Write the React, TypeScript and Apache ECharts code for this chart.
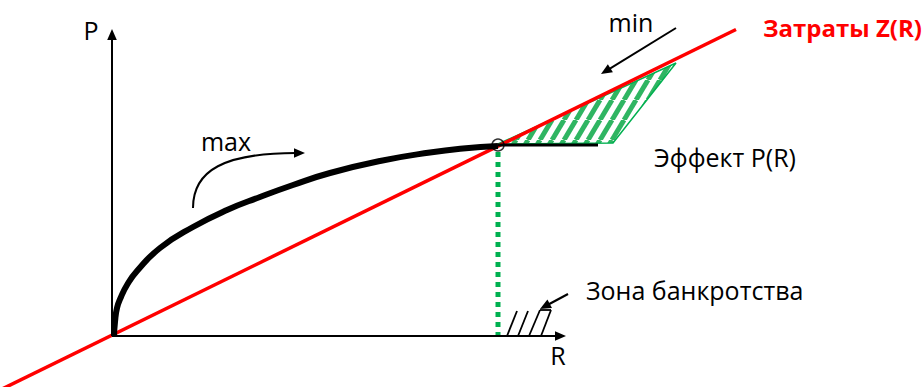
import React, { useEffect, useRef } from "react";
import * as echarts from "echarts";

// Effect curve P(R) (thick black) — data units
const effectR = [0.04, 0.06, 0.1, 0.18, 0.3, 0.5, 0.96, 1.62, 2.3, 2.96, 3.62, 4.36, 5.36, 6.36, 7.02, 7.72];
const effectP = [0, 0.28, 0.56, 0.78, 1.02, 1.3, 1.76, 2.18, 2.52, 2.78, 3.02, 3.26, 3.5, 3.67, 3.75, 3.8];
// Plateau of the effect after the break-even point
const plateauR = [7.72, 9.72];
const plateauP = [3.82, 3.82];
// Costs line Z(R)
const costR = [-2.24, 12.48];
const costZ = [-1.08, 6.13];
// Break-even point
const breakEven = [7.72, 3.82];
// Hatched "min" zone between Z(R) and P(R)
const hatchZone = [[7.72, 3.84], [11.28, 5.46], [10.02, 3.86]];
// Bankruptcy zone strokes
const zoneStrokes = [
  [[7.9, 0], [8.1, 0.5]],
  [[8.12, 0], [8.32, 0.5]],
  [[8.34, 0], [8.56, 0.52]],
  [[8.56, 0.52], [8.78, 0.52]],
  [[8.78, 0.52], [8.58, 0]],
];
// Arrows (straight: start,end ; curved: start,cp1,cp2,end)
const yAxisArrow = [[0, 0], [0, 6.14]];
const xAxisArrow = [[0, 0], [9.08, 0]];
const minArrow = [[11.28, 6.16], [9.78, 5.24]];
const maxArrow = [[1.62, 2.56], [1.62, 3.32], [2.26, 3.66], [3.86, 3.66]];
const zoneArrow = [[9.12, 0.84], [8.56, 0.54]];
const arrowList = [yAxisArrow, xAxisArrow, minArrow, maxArrow, zoneArrow];
const arrowWidths = [2, 2, 2, 2, 2.2];

const FONT = '"Open Sans", "Noto Sans", sans-serif';

function makeHatch() {
  const w = 12;
  const h = 20;
  const c = document.createElement("canvas");
  c.width = w;
  c.height = h;
  const ctx = c.getContext("2d")!;
  ctx.fillStyle = "#ffffff";
  ctx.fillRect(0, 0, w, h);
  ctx.strokeStyle = "#2fb562";
  ctx.lineWidth = 5;
  for (let k = -1; k <= 1; k++) {
    ctx.beginPath();
    ctx.moveTo(k * w, h);
    ctx.lineTo(k * w + w, 0);
    ctx.stroke();
  }
  return c;
}

export default function App() {
  const ref = useRef<HTMLDivElement>(null);
  useEffect(() => {
    document.body.style.margin = "0";
    const chart = echarts.init(ref.current!, null, { renderer: "svg" });
    const hatch = makeHatch();

    const text = (t: string, x: number, y: number, opts: any = {}) => ({
      type: "text",
      x,
      y,
      z: 100,
      style: {
        text: t,
        fontSize: opts.size || 25,
        fontFamily: FONT,
        fontWeight: opts.bold ? "bold" : "normal",
        fill: opts.color || "#000",
        align: opts.align || "left",
        verticalAlign: "middle",
      },
    });

    chart.setOption({
      animation: false,
      backgroundColor: "#ffffff",
      grid: { left: 0, right: 0, top: 0, bottom: 0 },
      xAxis: { type: "value", min: -2.24, max: 16.22, show: false },
      yAxis: { type: "value", min: -1.02, max: 6.72, show: false },
      series: [
        {
          type: "custom",
          z: 1,
          data: [[hatchZone[0][0], hatchZone[0][1]]],
          renderItem: (_p: any, api: any) => ({
            type: "polygon",
            shape: { points: hatchZone.map((p) => api.coord(p)) },
            style: {
              fill: { image: hatch, repeat: "repeat", imageWidth: 12, imageHeight: 20 },
              stroke: "#00b050",
              lineWidth: 1.5,
            },
          }),
        },
        {
          type: "line",
          z: 2,
          data: [[breakEven[0], breakEven[1] - 0.14], [breakEven[0], 0]],
          symbol: "none",
          lineStyle: { color: "#00b050", width: 5, type: [5, 5] },
        },
        {
          type: "line",
          z: 3,
          data: costR.map((r, i) => [r, costZ[i]]),
          symbol: "none",
          lineStyle: { color: "#ff0000", width: 3.5 },
        },
        {
          type: "line",
          z: 4,
          data: effectR.map((r, i) => [r, effectP[i]]),
          symbol: "none",
          smooth: 0.5,
          lineStyle: { color: "#000000", width: 6 },
        },
        {
          type: "line",
          z: 4,
          data: plateauR.map((r, i) => [r, plateauP[i]]),
          symbol: "none",
          lineStyle: { color: "#000000", width: 2.8 },
        },
        {
          type: "scatter",
          z: 5,
          data: [breakEven],
          symbol: "circle",
          symbolSize: 12,
          itemStyle: { color: "rgba(0,0,0,0)", borderColor: "#000", borderWidth: 1.5 },
        },
        {
          type: "lines",
          z: 5,
          coordinateSystem: "cartesian2d",
          data: zoneStrokes.map((s) => ({ coords: s })),
          symbol: "none",
          lineStyle: { color: "#000", width: 1.8, opacity: 1 },
        },
        {
          type: "custom",
          z: 6,
          data: arrowList.map((a, i) => [a[0][0], a[0][1], i]),
          renderItem: (params: any, api: any) => {
            const i = params.dataIndex;
            const pts = arrowList[i].map((p) => api.coord(p));
            const n = pts.length;
            const tip = pts[n - 1];
            const prev = pts[n - 2];
            let dx = tip[0] - prev[0];
            let dy = tip[1] - prev[1];
            const len = Math.hypot(dx, dy) || 1;
            dx /= len;
            dy /= len;
            const L = 11;
            const hw = 4.8;
            const base = [tip[0] - dx * L, tip[1] - dy * L];
            const head = {
              type: "polygon",
              shape: {
                points: [tip, [base[0] - dy * hw, base[1] + dx * hw], [base[0] + dy * hw, base[1] - dx * hw]],
              },
              style: { fill: "#000" },
            };
            const w = arrowWidths[i];
            const body =
              n === 2
                ? {
                    type: "line",
                    shape: { x1: pts[0][0], y1: pts[0][1], x2: base[0] + dx * 2, y2: base[1] + dy * 2 },
                    style: { stroke: "#000", lineWidth: w, fill: null },
                  }
                : {
                    type: "bezierCurve",
                    shape: {
                      x1: pts[0][0],
                      y1: pts[0][1],
                      cpx1: pts[1][0],
                      cpy1: pts[1][1],
                      cpx2: pts[2][0],
                      cpy2: pts[2][1],
                      x2: base[0] + dx * 2,
                      y2: base[1] + dy * 2,
                    },
                    style: { stroke: "#000", lineWidth: w, fill: null },
                  };
            return { type: "group", children: [body, head] };
          },
        },
      ],
      graphic: [
        text("P", 91, 30, { align: "center" }),
        text("R", 558, 355, { align: "center" }),
        text("max", 226, 141, { align: "center" }),
        text("min", 631, 22, { align: "center" }),
        text("Затраты Z(R)", 763, 27, { bold: true, color: "#ff0000", size: 24 }),
        text("Эффект P(R)", 654, 157),
        text("Зона банкротства", 586, 290),
      ],
    });
    return () => chart.dispose();
  }, []);
  return <div ref={ref} style={{ width: 923, height: 387 }} />;
}
